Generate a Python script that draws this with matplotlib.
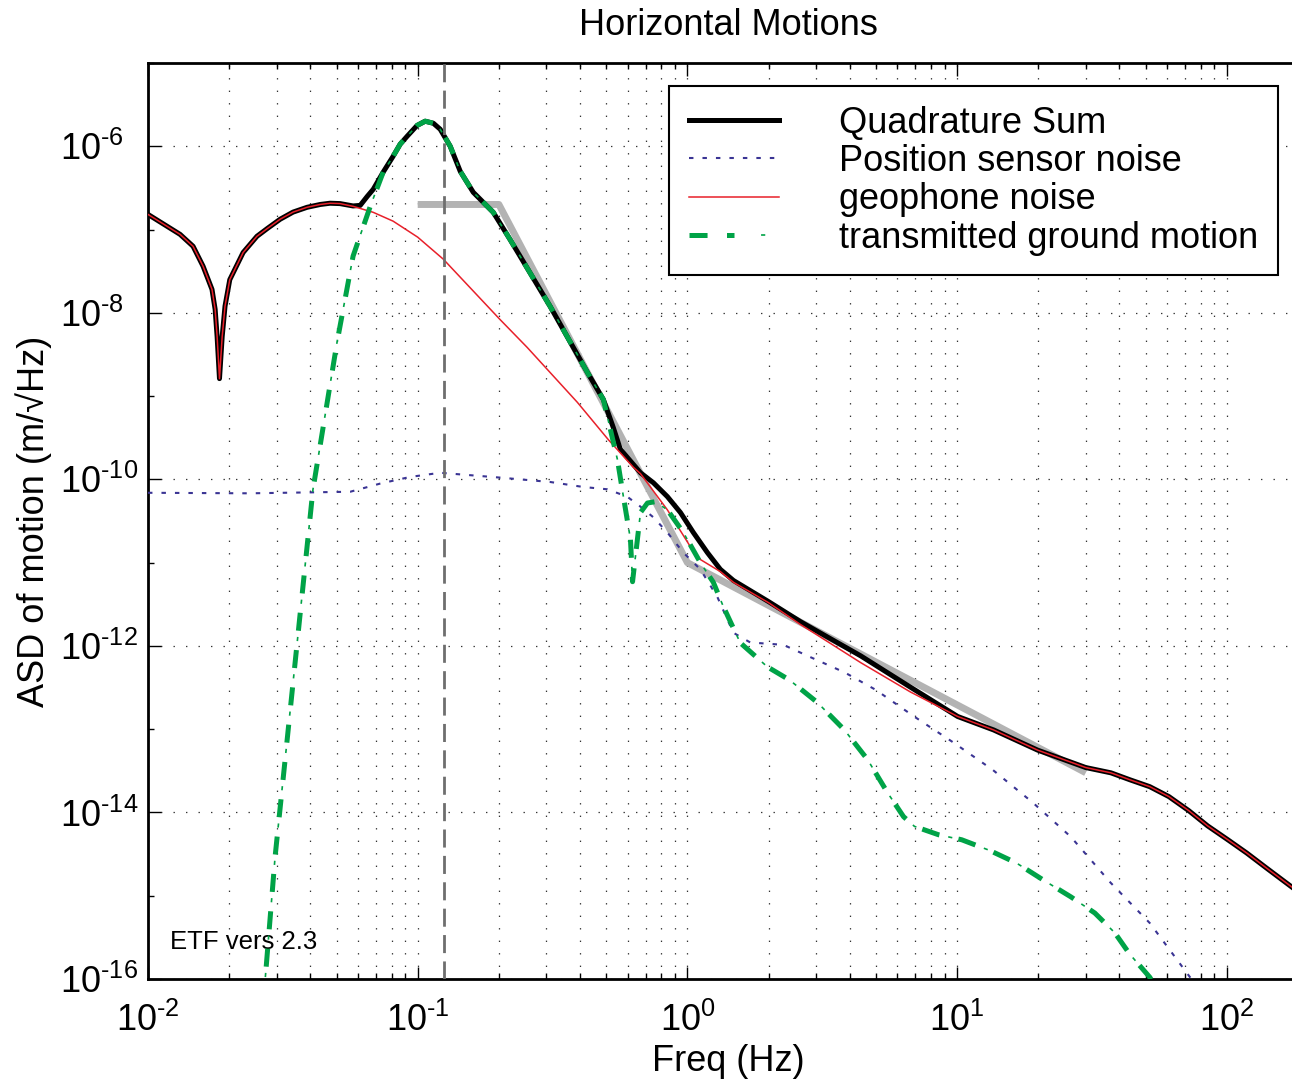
"""Horizontal Motions - ASD of motion vs frequency, rebuilt from the reference figure."""
import math

import matplotlib
matplotlib.use("Agg")
import matplotlib.pyplot as plt
from matplotlib.legend_handler import HandlerTuple
from matplotlib.ticker import FixedLocator, FuncFormatter, LogLocator, NullFormatter

plt.rcParams["font.family"] = ["Liberation Sans", "DejaVu Sans"]
plt.rcParams["mathtext.fontset"] = "custom"
plt.rcParams["mathtext.rm"] = "Liberation Sans"
plt.rcParams["mathtext.it"] = "Liberation Sans:italic"
plt.rcParams["mathtext.bf"] = "Liberation Sans:bold"
plt.rcParams["lines.scale_dashes"] = False   # dash lengths below are in points

# ---- data, freq in Hz, ASD in m/sqrt(Hz)
geo_f = [0.0100, 0.01315, 0.01469, 0.0160, 0.01727, 0.01774, 0.01804, 0.01841,
         0.01884, 0.0193, 0.0201, 0.02253, 0.02535, 0.0277, 0.0309, 0.0345, 0.0389,
         0.0435, 0.0473, 0.0515, 0.0576, 0.0684, 0.0811, 0.100, 0.1245, 0.202,
         0.2547, 0.391, 0.509, 0.630, 0.670, 0.843, 1.026, 1.117, 1.325, 1.482,
         2.0, 2.63, 3.03, 4.39, 6.71, 10.05, 13.65, 19.9, 30.0, 37.2, 43.7, 51.8,
         61.0, 72.3, 84.9, 100.9, 118.5, 140.6, 176.0, 200.0]
geo_asd = [1.52e-7, 8.75e-8, 6.3e-8, 3.63e-8, 1.91e-8, 1.1e-8, 5.2e-9, 1.62e-9,
           5.2e-9, 1.2e-8, 2.5e-8, 5.3e-8, 8.3e-8, 1.03e-7, 1.33e-7, 1.62e-7, 1.85e-7,
           2.0e-7, 2.07e-7, 2.05e-7, 1.90e-7, 1.61e-7, 1.26e-7, 8.1e-8, 4.4e-8, 8.3e-9,
           3.84e-9, 8.4e-10, 3.0e-10, 1.4e-10, 1.17e-10, 4.3e-11, 1.55e-11, 1.09e-11, 7.8e-12, 5.8e-12,
           3.3e-12, 1.8e-12, 1.35e-12, 6.3e-13, 2.8e-13, 1.42e-13, 9.8e-14, 5.6e-14, 3.46e-14, 2.99e-14, 2.47e-14, 2.04e-14,
           1.55e-14, 1.05e-14, 6.9e-15, 4.7e-15, 3.26e-15, 2.14e-15, 1.24e-15, 9.1e-16]

quad_f = [0.0100, 0.01315, 0.01469, 0.0160, 0.01727, 0.01774, 0.01804, 0.01841,
          0.01884, 0.0193, 0.0201, 0.02253, 0.02535, 0.0277, 0.0309, 0.0345, 0.0389,
          0.0435, 0.0473, 0.0515, 0.0576, 0.0612, 0.065, 0.0684, 0.0745, 0.0811,
          0.0861, 0.0914, 0.0995, 0.1066, 0.1143, 0.1212, 0.132, 0.1438, 0.1607,
          0.1906, 0.220, 0.310, 0.426, 0.488, 0.531, 0.564, 0.670, 0.748, 0.843,
          0.942, 1.052, 1.186, 1.325, 1.482, 2.0, 2.63, 3.03, 4.39, 6.71, 10.05,
          13.65, 19.9, 30.0, 37.2, 43.7, 51.8, 61.0, 72.3, 84.9, 100.9, 118.5,
          140.6, 176.0, 200.0]
quad_asd = [1.52e-7, 8.75e-8, 6.3e-8, 3.63e-8, 1.91e-8, 1.1e-8, 5.2e-9, 1.62e-9,
            5.2e-9, 1.2e-8, 2.5e-8, 5.3e-8, 8.3e-8, 1.03e-7, 1.33e-7, 1.62e-7, 1.85e-7,
            2.0e-7, 2.07e-7, 2.05e-7, 1.92e-7, 1.95e-7, 2.5e-7, 3.04e-7, 4.9e-7, 7.6e-7,
            1.06e-6, 1.32e-6, 1.78e-6, 2.0e-6, 1.89e-6, 1.6e-6, 1.0e-6, 5.0e-7, 2.8e-7,
            1.61e-7, 7.6e-8, 1.19e-8, 1.92e-9, 9.1e-10, 4.2e-10, 2.3e-10, 1.2e-10, 9.1e-11, 6.2e-11,
            4.0e-11, 2.3e-11, 1.32e-11, 8.3e-12, 6.1e-12, 3.4e-12, 1.95e-12, 1.5e-12, 7.6e-13, 3.2e-13, 1.42e-13,
            9.8e-14, 5.6e-14, 3.46e-14, 2.99e-14, 2.47e-14, 2.04e-14, 1.55e-14, 1.05e-14, 6.9e-15, 4.7e-15, 3.26e-15,
            2.14e-15, 1.24e-15, 9.1e-16]

ground_f = [0.0268, 0.0272, 0.0296, 0.0409, 0.0502, 0.0576, 0.0667, 0.0745, 0.0811,
            0.0861, 0.0914, 0.0995, 0.1066, 0.1143, 0.1212, 0.132, 0.1438, 0.1607,
            0.1906, 0.220, 0.310, 0.426, 0.488, 0.550, 0.579, 0.615, 0.626, 0.670,
            0.711, 0.761, 0.843, 0.966, 1.117, 1.248, 1.36, 1.57, 1.98, 2.39, 3.03,
            3.82, 4.66, 5.52, 6.33, 6.95, 8.53, 10.4, 13.2, 16.6, 20.9, 26.4, 32.4,
            38.4, 43.6, 51.8, 56.9]
ground_asd = [5e-17, 1e-16, 2.95e-15, 7.6e-11, 4.4e-9, 4.8e-8, 1.9e-7, 4.9e-7, 7.6e-7,
              1.06e-6, 1.32e-6, 1.78e-6, 2.0e-6, 1.89e-6, 1.6e-6, 1.0e-6, 5.0e-7, 2.8e-7,
              1.61e-7, 7.6e-8, 1.19e-8, 1.92e-9, 9.1e-10, 1.74e-10, 6.2e-11, 1.9e-11, 5.9e-12, 4.0e-11,
              5.2e-11, 5.4e-11, 4.3e-11, 2.3e-11, 1.0e-11, 5.8e-12, 2.95e-12, 1.09e-12, 5.6e-13, 3.9e-13, 2.1e-13,
              9.8e-14, 4.3e-14, 1.73e-14, 8.9e-15, 6.8e-15, 5.4e-15, 4.7e-15, 3.5e-15, 2.47e-15, 1.54e-15, 9.7e-16, 6.2e-16,
              3.6e-16, 2.0e-16, 1.05e-16, 6.4e-17]

sensor_f = [0.0100, 0.0239, 0.0562, 0.0726, 0.0938, 0.1212, 0.202, 0.310, 0.411,
            0.505, 0.598, 0.670, 0.748, 0.843, 0.966, 1.117, 1.29, 1.48, 1.71, 2.27,
            2.84, 3.83, 4.99, 6.95, 9.7, 13.55, 19.1, 26.4, 37.1, 51.8, 69.8, 76.7]
sensor_asd = [6.9e-11, 6.8e-11, 7.1e-11, 8.9e-11, 1.07e-10, 1.2e-10, 1.05e-10, 9.3e-11, 8.1e-11,
              7.6e-11, 6.2e-11, 4.7e-11, 3.5e-11, 2.3e-11, 1.32e-11, 8.3e-12, 3.9e-12, 1.44e-12, 1.1e-12, 1.03e-12,
              7.4e-13, 4.8e-13, 2.97e-13, 1.41e-13, 6.9e-14, 3.25e-14, 1.31e-14, 5.1e-15, 1.43e-15, 4.7e-16, 1.28e-16, 8.5e-17]

# grey requirement curve and the marked frequency
req_f = [0.1, 0.2, 1.0, 30.0]
req_asd = [2e-7, 2e-7, 1e-11, 3e-14]
f_mark = 0.125

FS = 26


def sci(v, pos):
    e = int(round(math.log10(v)))
    s = ("\u2010" if e < 0 else "") + str(abs(e))
    return r"$\mathdefault{10^{%s}}$" % s


# ---- plot
fig = plt.figure(figsize=(12.92, 10.81), dpi=100)
ax = fig.add_axes([148 / 1292, 102 / 1081, 1160 / 1292, 916 / 1081])

ax.plot(req_f, req_asd, color="#b3b3b3", lw=5, solid_capstyle="butt", zorder=2)
l_pos, = ax.plot(sensor_f, sensor_asd, color="#3a3494", lw=1.5, ls=(0, (3.2, 6.5)), zorder=3)
l_sum, = ax.plot(quad_f, quad_asd, color="black", lw=3.6, zorder=4)
l_geo, = ax.plot(geo_f, geo_asd, color="#e8202a", lw=1.1, zorder=5)
# dash-dot drawn as thick dashes plus thin dots in the gaps
l_gr1, = ax.plot(ground_f, ground_asd, color="#00a347", lw=3.6, ls=(0, (13, 14)),
                 solid_capstyle="butt", zorder=6)
l_gr2, = ax.plot(ground_f, ground_asd, color="#00a347", lw=1.2, ls=(7.5, (3, 24)), zorder=6)
ax.axvline(f_mark, color="#6e6e6e", lw=2, ls=(0, (13, 6)), zorder=7)

ax.set_xscale("log")
ax.set_yscale("log")
ax.set_xlim(0.01, 200)
ax.set_ylim(1e-16, 1e-5)

ax.yaxis.set_major_locator(FixedLocator([10.0 ** e for e in range(-16, -5, 2)]))
ax.yaxis.set_minor_locator(FixedLocator([10.0 ** e for e in range(-15, -4, 2)]))
ax.yaxis.set_minor_formatter(NullFormatter())
ax.xaxis.set_major_locator(LogLocator(base=10, numticks=12))
ax.xaxis.set_minor_locator(LogLocator(base=10, subs=range(2, 10), numticks=12))
ax.xaxis.set_minor_formatter(NullFormatter())
ax.xaxis.set_major_formatter(FuncFormatter(sci))
ax.yaxis.set_major_formatter(FuncFormatter(sci))

ax.tick_params(which="both", direction="in", top=True, right=False, width=1, colors="black")
ax.tick_params(which="major", length=9)
ax.tick_params(which="minor", length=4)
ax.tick_params(axis="x", which="major", labelsize=FS, pad=17)
ax.tick_params(axis="y", which="major", labelsize=FS, pad=63.4)
for lab in ax.get_yticklabels():
    lab.set_horizontalalignment("left")   # "10" column lines up at the left
for side in ("left", "bottom", "top"):
    ax.spines[side].set_linewidth(2)
ax.spines["right"].set_visible(False)

ax.grid(axis="x", which="both", ls=(0, (1, 8)), color="#333333", lw=0.9)
ax.grid(axis="y", which="major", ls=(0, (1, 8)), color="#333333", lw=0.9)
ax.set_axisbelow(True)

ax.set_xlabel("Freq (Hz)", fontsize=FS)
ax.xaxis.set_label_coords(0.5, -0.0705)
ax.set_ylabel("ASD of motion (m/\u221aHz)", fontsize=FS)
ax.yaxis.set_label_coords(-0.083, 0.5)
ax.set_title("Horizontal Motions", fontsize=FS, pad=20)

ax.text(0.019, 0.033, "ETF vers 2.3", transform=ax.transAxes, fontsize=18.5,
        va="baseline", ha="left")

leg = ax.legend([l_sum, l_pos, l_geo, (l_gr1, l_gr2)],
                ["Quadrature Sum", "Position sensor noise", "geophone noise",
                 "transmitted ground motion"],
                handler_map={tuple: HandlerTuple(ndivide=None, pad=0)},
                loc="upper right", bbox_to_anchor=(1130 / 1160, 893 / 916),
                borderaxespad=0, fontsize=FS, handlelength=2.5, handletextpad=1.65,
                labelspacing=0.09, borderpad=0.55, fancybox=False, framealpha=1,
                edgecolor="black")
leg.get_frame().set_linewidth(1.5)

fig.savefig("out.png", dpi=100)
